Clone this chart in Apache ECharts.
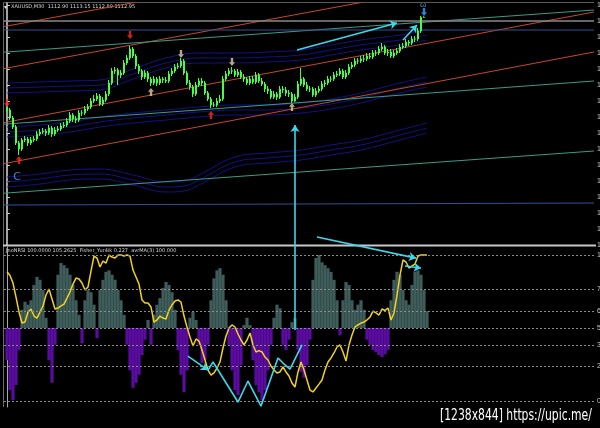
<!DOCTYPE html>
<html><head><meta charset="utf-8">
<script src="https://cdn.jsdelivr.net/npm/echarts@6.0.0/dist/echarts.min.js"></script>
<style>html,body{margin:0;padding:0;background:#000;overflow:hidden}#c{width:600px;height:428px}</style>
</head><body><div id="c"></div>
<script>
// ---------- price pane data (bar index = position) ----------
const closes = [
1089.75,1087.75,1085.5,1081.5,1080.0,1082.25,1082.5,1081.5,1082.25,1082.5,
1083.75,1084.25,1084.5,1084.0,1085.25,1083.75,1084.75,1085.0,1085.75,1086.0,
1087.0,1088.5,1087.5,1087.25,1089.0,1089.0,1090.0,1090.5,1092.0,1092.5,
1093.25,1091.25,1092.25,1093.75,1096.5,1099.5,1099.75,1098.5,1099.0,1101.5,
1102.75,1105.0,1103.25,1100.75,
1099.5,1098.0,1099.0,1097.5,1096.5,1097.5,1096.5,1097.5,1097.25,1097.0,
1098.75,1099.5,1100.5,1100.75,1102.0,1099.0,1096.5,1095.5,1093.75,1096.0,
1097.0,1096.5,1094.0,1092.5,1091.0,1091.0,1092.0,1092.5,1097.5,1098.75,
1099.5,1099.5,1098.5,1099.25,1098.0,1097.5,1096.5,1097.5,1096.75,1098.5,
1097.0,1096.25,1095.0,1094.5,1093.0,1093.75,1093.0,1095.0,1094.75,1094.0,
1093.75,1092.0,1093.0,1096.25,1097.5,1096.0,1095.0,1095.0,1093.5,1094.5,
1095.0,1096.25,1096.5,1097.5,1097.5,1098.5,1098.75,1099.5,1098.0,1099.0,
1100.5,1101.0,1102.0,1102.0,1102.5,1102.5,1103.25,1103.0,1104.0,1104.0,
1105.0,1105.5,1104.0,1104.25,1103.25,1104.0,1104.5,1105.5,1105.75,1106.75,
1106.5,1107.5,1107.5,1109.5,1112.9,1112.95];
const opens = [
1090.25,1089.75,1087.75,1085.5,1081.5,1080.0,1082.25,1082.5,1081.5,1082.25,
1082.5,1083.75,1084.25,1084.5,1084.0,1085.25,1083.75,1084.75,1085.0,1085.75,
1086.0,1087.0,1088.5,1087.5,1087.25,1089.0,1089.0,1090.0,1090.5,1092.0,
1092.5,1093.25,1091.25,1092.25,1093.75,1096.5,1099.5,1099.75,1098.5,1099.0,
1101.5,1102.75,1105.0,1103.25,
1100.75,1099.5,1098.0,1099.0,1097.5,1096.5,1097.5,1096.5,1097.5,1097.25,
1097.0,1098.75,1099.5,1100.5,1100.75,1102.0,1099.0,1096.5,1095.5,1093.75,
1096.0,1097.0,1096.5,1094.0,1092.5,1091.0,1091.0,1092.0,1092.5,1097.5,
1098.75,1099.5,1099.5,1098.5,1099.25,1098.0,1097.5,1096.5,1097.5,1096.75,
1098.5,1097.0,1096.25,1095.0,1094.5,1093.0,1093.75,1093.0,1095.0,1094.75,
1094.0,1093.75,1092.0,1093.0,1096.25,1097.5,1096.0,1095.0,1095.0,1093.5,
1094.5,1095.0,1096.25,1096.5,1097.5,1097.5,1098.5,1098.75,1099.5,1098.0,
1099.0,1100.5,1101.0,1102.0,1102.0,1102.5,1102.5,1103.25,1103.0,1104.0,
1104.0,1105.0,1105.5,1104.0,1104.25,1103.25,1104.0,1104.5,1105.5,1105.75,
1106.75,1106.5,1107.5,1107.5,1109.5,1112.9];
const highs = [
1090.75,1090.25,1088.25,1086.0,1082.0,1082.75,1083.25,1083.0,1083.0,1083.25,
1084.5,1085.0,1085.25,1085.0,1086.0,1085.75,1085.5,1085.75,1086.5,1086.75,
1087.75,1089.25,1089.0,1088.25,1089.75,1089.75,1090.75,1091.25,1092.75,1093.5,
1094.0,1093.75,1093.0,1094.5,1097.25,1100.25,1100.5,1100.25,1099.75,1102.25,
1103.5,1105.75,1105.5,1103.75,
1101.25,1100.0,1099.75,1099.5,1098.0,1098.25,1098.0,1098.25,1098.0,1098.0,
1099.5,1100.25,1101.25,1101.5,1102.75,1102.5,1099.5,1097.25,1096.0,1096.75,
1097.75,1097.75,1097.0,1094.5,1093.0,1091.75,1092.75,1093.5,1098.25,1099.5,
1100.25,1100.5,1100.0,1100.0,1099.75,1098.75,1098.0,1098.25,1098.25,1099.25,
1099.0,1097.75,1096.75,1095.75,1095.0,1094.5,1094.25,1095.75,1095.75,1095.5,
1094.75,1094.25,1093.75,1097.0,1100.25,1098.0,1096.75,1095.75,1095.5,1095.25,
1095.75,1097.0,1097.25,1098.25,1098.25,1099.25,1099.5,1100.25,1100.0,1099.75,
1101.25,1101.75,1102.75,1102.75,1103.25,1103.5,1104.0,1104.0,1104.75,1104.75,
1105.75,1106.5,1106.0,1105.0,1105.0,1104.75,1105.25,1106.25,1106.5,1107.5,
1107.25,1108.25,1108.25,1110.25,1113.25,1113.15];
const lows = [
1089.25,1087.25,1085.0,1081.0,1078.5,1079.5,1081.75,1080.75,1081.0,1081.75,
1082.0,1083.25,1083.75,1083.25,1083.5,1083.0,1083.25,1084.25,1084.5,1085.25,
1085.5,1086.5,1086.75,1086.5,1086.75,1088.25,1088.5,1089.5,1090.0,1091.5,
1092.0,1090.75,1090.75,1091.75,1093.25,1096.0,1098.75,1096.0,1097.75,1098.5,
1101.0,1102.25,1102.75,1100.0,
1098.75,1097.25,1097.5,1096.75,1095.75,1096.0,1095.75,1096.0,1096.5,1096.5,
1096.5,1098.25,1099.0,1100.0,1100.25,1098.5,1096.0,1094.75,1093.0,1093.25,
1095.5,1095.75,1093.5,1092.0,1090.25,1090.5,1090.5,1091.5,1092.0,1097.0,
1098.25,1098.75,1098.0,1098.0,1097.5,1096.75,1096.0,1096.0,1096.25,1096.25,
1096.5,1095.75,1094.25,1093.75,1092.5,1092.5,1092.25,1092.5,1094.0,1093.25,
1093.0,1091.5,1091.75,1092.5,1095.75,1095.5,1094.5,1094.25,1093.0,1093.0,
1094.0,1094.5,1095.5,1096.0,1096.75,1097.0,1098.0,1098.25,1097.5,1097.5,
1098.5,1100.0,1100.5,1101.25,1101.5,1101.75,1102.0,1102.5,1102.5,1103.25,
1103.5,1104.5,1103.5,1103.25,1102.75,1102.75,1103.5,1104.0,1105.0,1105.25,
1105.75,1106.0,1106.75,1107.0,1109.0,1112.89];

// moving-average envelopes: [bar index, price]
const envUpperA = [[0,1096.5],[11,1096.75],[21,1097.0],[31,1097.25],[42,1100.0],[53,1102.75],[64,1104.0],[76,1104.0],[87,1104.25],[98,1104.75],[108,1106.0],[118,1107.25],[131,1108.5],[140,1109.75]];
const envUpperB = [[0,1095.25],[11,1095.5],[21,1095.75],[31,1096.0],[42,1098.75],[53,1101.5],[64,1102.75],[76,1102.75],[87,1103.0],[98,1103.5],[108,1104.75],[118,1106.0],[131,1107.25],[140,1108.5]];
const envUpperC = [[0,1094.0],[11,1094.25],[21,1094.5],[31,1094.75],[42,1097.5],[53,1100.25],[64,1101.5],[76,1101.5],[87,1101.75],[98,1102.25],[108,1103.5],[118,1104.75],[131,1106.0],[140,1107.25]];
const envMidA = [[0,1085.5],[11,1086.0],[21,1086.75],[31,1088.0],[42,1089.0],[53,1089.75],[64,1090.5],[76,1091.0],[87,1091.0],[98,1091.5],[108,1092.5],[118,1094.0],[131,1096.5],[140,1098.0]];
const envMidB = [[0,1084.25],[11,1084.75],[21,1085.5],[31,1086.75],[42,1087.75],[53,1088.5],[64,1089.25],[76,1089.75],[87,1089.75],[98,1090.25],[108,1091.25],[118,1092.75],[131,1095.25],[140,1096.75]];
const envMidC = [[0,1083.0],[11,1083.5],[21,1084.25],[31,1085.5],[42,1086.5],[53,1087.25],[64,1088.0],[76,1088.5],[87,1088.5],[98,1089.0],[108,1090.0],[118,1091.5],[131,1094.0],[140,1095.5]];
const envLowA = [[0,1073.0],[11,1073.75],[21,1074.75],[31,1075.0],[42,1073.5],[53,1071.75],[59,1072.0],[64,1073.5],[76,1078.0],[87,1079.0],[98,1079.75],[108,1081.0],[118,1082.25],[131,1084.75],[140,1086.5]];
const envLowB = [[0,1071.75],[11,1072.5],[21,1073.5],[31,1073.75],[42,1072.25],[53,1070.5],[59,1070.75],[64,1072.25],[76,1076.75],[87,1077.75],[98,1078.5],[108,1079.75],[118,1081.0],[131,1083.5],[140,1085.25]];
const envLowC = [[0,1070.5],[11,1071.25],[21,1072.25],[31,1072.5],[42,1071.0],[53,1069.25],[59,1069.5],[64,1071.0],[76,1075.5],[87,1076.5],[98,1077.25],[108,1078.5],[118,1079.75],[131,1082.25],[140,1084.0]];

// straight chart objects: [[index, price],[index, price]]
const redLines = [[[-1,1110.6],[195.67,1137.9]],[[-1,1100.1],[195.67,1127.4]],[[-1,1086.6],[195.67,1114.25]],[[-1,1076.35],[195.67,1104.25]]];
const tealLines = [[[-1,1104.2],[195.67,1114.75]],[[-1,1086.2],[195.67,1097.0]],[[-1,1068.95],[195.67,1079.5]]];
const blueLines = [[[-1,1109.75],[195.67,1109.75]],[[-1,1066.0],[195.67,1066.5]]];
const bidLine = [[-1,1112.0],[195.67,1112.0]];

// fractal arrows
const redDown = [[0,1091.5],[41,1108.5]];
const redUp = [[4,1077.25],[68,1088.5]];
const beigeDown = [[58,1103.75],[75,1101.75]];
const beigeUp = [[48,1094.25],[95,1090.5]];
const blueDown = [[139,1114.25]];

// cyan hand-drawn arrows
const cyanTop = [[[96.67,1104.75],[130,1111.5]],[[132,1107.25],[136.67,1111.0]],[[96,1034.75],[96,1086.0]]];
const cyanBottom = [[[103.33,112.3],[136.33,97.9]],[[132.67,92.5],[138,91.1]],[[60.3,30.8],[67,21.2]]];
const cyanZigzag = [[67,21.2],[68.67,26.7],[77,-0.7],[80.33,13.7],[84.67,-3.5],[90.33,29.5],[92,26.0],[94.33,21.9],[98.33,38.4]];

// ---------- indicator pane ----------
const histValues = [-0.44,-0.85,
-0.99,-0.78,-0.30,0.25,0.36,0.32,0.38,0.59,0.70,0.66,0.52,0.14,-0.44,-0.75,-0.23,0.73,0.89,0.86,0.82,0.73,0.59,0.38,0.18,-0.21,0.38,0.52,0.49,0.32,-0.14,0.52,0.66,0.77,0.79,0.73,0.66,0.52,0.38,0.18,-0.23,-0.58,-0.82,
-0.75,
-0.64,-0.37,-0.16,0.11,-0.23,0.18,0.32,0.41,0.55,0.63,0.59,0.49,0.25,-0.30,-0.64,-0.88,-0.58,0.14,0.22,0.11,-0.23,-0.48,-0.44,-0.23,0.38,0.68,0.79,0.82,0.73,0.38,-0.23,-0.58,-0.85,-0.92,-0.51,0.04,0.14,0.04,-0.44,-0.78,
-0.88,
-0.99,-0.85,-0.58,-0.23,0.14,0.32,0.27,-0.23,-0.30,-0.16,0.08,0.14,-0.30,-0.60,-0.68,-0.51,-0.16,0.66,0.96,1.0,0.90,0.86,0.82,0.77,0.66,0.38,-0.10,0.38,0.63,0.59,0.38,0.25,0.32,0.38,0.25,-0.16,-0.23,-0.30,-0.33,-0.37,-0.40,
-0.36,
-0.30,0.38,0.66,0.77,0.73,0.52,0.38,0.32,0.59,0.77,0.79,0.73,0.52,0.23];
const rsiValues = [88.5,86.0,
80.8,71.2,61.0,53.4,54.1,61.0,63.0,58.2,56.8,61.0,65.1,72.6,76.7,69.9,63.0,63.7,65.1,66.4,70.5,74.7,80.1,84.2,83.6,80.8,76.0,78.1,89.0,99.3,97.9,91.8,95.9,94.5,100,98.6,97.9,100,100,99.3,100,99.3,89.7,
85.0,
80.1,69.2,67.1,67.1,64.4,54.1,55.5,58.2,56.8,56.2,62.3,65.8,68.5,69.2,67.8,58.2,50.7,43.8,37.7,42.5,41.1,34.9,28.1,21.2,17.8,19.2,22.6,26.7,36.3,44.5,50.0,52.1,50.7,45.9,41.8,38.4,41.8,46.6,38.4,33.6,
34.5,
33.6,30.1,28.1,24.0,21.2,19.2,19.9,23.3,19.9,17.1,12.3,9.6,19.9,26.7,21.2,14.4,7.5,6.2,8.9,11.6,14.4,21.2,26.7,29.5,32.9,37.0,38.4,33.6,27.4,38.4,45.2,50.7,52.1,53.4,54.1,55.5,57.5,61.6,60.3,58.9,63.0,
62.0,
63.7,55.5,60.3,72.6,86.3,96.6,95.2,91.1,92.5,93.8,99.3,100,100,100];
const levelValues = [100, 76.4, 61.8, 50, 38.2, 23.6, 0];
const levelLabels = ['100', '76.4', '61.8', '50', '38.2', '23.6', '0'];

const titleText = 'XAUUSD,M30  1112.90 1113.15 1112.89 1112.95';
const subTitleText = 'JnoNRSI 100.0000 105.2625  Fisher_Yur4ik 0.227  avrMA(3) 100.000';
const footerText = '[1238x844] https://upic.me/';

// ---------- build ----------
const chart = echarts.init(document.getElementById('c'), null, {renderer: 'canvas'});
const candleData = closes.map((c, i) => [i, opens[i], c, lows[i], highs[i]]);
const histData = histValues.map((v, i) => [i, v]);
const rsiData = rsiValues.map((v, i) => [i, v]);

const DOWN = 'path://M3,0 L7,0 L7,6 L10,6 L5,11 L0,6 L3,6 Z';
const UP = 'path://M5,0 L10,5 L7,5 L7,11 L3,11 L3,5 L0,5 Z';

const series = [];
function straight(pts, color, w) {
  series.push({type: 'line', xAxisIndex: 0, yAxisIndex: 0, data: pts, symbol: 'none', silent: true,
    lineStyle: {color: color, width: w || 1}, z: 1});
}
[envUpperA, envUpperB, envUpperC, envMidA, envMidB, envMidC, envLowA, envLowB, envLowC].forEach(e =>
  series.push({type: 'line', xAxisIndex: 0, yAxisIndex: 0, data: e, symbol: 'none', smooth: 0.4, silent: true,
    lineStyle: {color: '#12128a', width: 1}, z: 1}));
redLines.forEach(l => straight(l, '#c8462a', 1));
tealLines.forEach(l => straight(l, '#3a9c88', 1));
blueLines.forEach(l => straight(l, '#33509a', 1));
straight(bidLine, '#8a8a8a', 1.5);

series.push({type: 'candlestick', xAxisIndex: 0, yAxisIndex: 0, data: candleData,
  dimensions: ['idx', 'open', 'close', 'lowest', 'highest'], encode: {x: 0, y: [1, 2, 3, 4]},
  barWidth: 2, itemStyle: {color: '#18c018', color0: '#18c018', borderColor: '#44ff44', borderColor0: '#44ff44', borderWidth: 1}, z: 3});

function arrows(data, sym, color) {
  series.push({type: 'scatter', xAxisIndex: 0, yAxisIndex: 0, data: data, symbol: sym, symbolSize: [6, 8],
    itemStyle: {color: color}, silent: true, z: 4});
}
arrows(redDown, DOWN, '#ff2a1a');
arrows(redUp, UP, '#ff2a1a');
arrows(beigeDown, DOWN, '#e0cfa0');
arrows(beigeUp, UP, '#e0cfa0');
arrows(blueDown, DOWN, '#3aa0ff');

series.push({type: 'scatter', xAxisIndex: 0, yAxisIndex: 0, symbolSize: 0, silent: true, z: 5,
  data: [{value: [3.33, 1073.0], label: {show: true, formatter: 'C', color: '#58a8e8', fontSize: 11, fontFamily: 'DejaVu Sans'}},
         {value: [138.67, 1116.0], label: {show: true, formatter: 'ω', color: '#58b8e8', fontSize: 8}}]});

series.push({type: 'lines', coordinateSystem: 'cartesian2d', xAxisIndex: 0, yAxisIndex: 0, clip: false,
  data: cyanTop.map(c => ({coords: c})), symbol: ['none', 'arrow'], symbolSize: 7,
  lineStyle: {color: '#3ed6ea', width: 1.6, opacity: 1}, silent: true, z: 6});

// indicator pane
series.push({type: 'bar', xAxisIndex: 1, yAxisIndex: 2, data: histData, barWidth: 3.2, silent: true,
  itemStyle: {color: p => p.value[1] >= 0 ? '#3e5d5a' : '#5a0ca0'}, z: 1});
series.push({type: 'line', xAxisIndex: 1, yAxisIndex: 1, data: rsiData, symbol: 'none', silent: true,
  lineStyle: {color: '#f2d21c', width: 1.5}, z: 3,
  markLine: {silent: true, symbol: 'none', animation: false,
    lineStyle: {color: '#8a8a8a', type: [2, 2], width: 1},
    label: {position: 'end', color: '#c8c8c8', fontSize: 7, distance: 3},
    data: levelValues.map((v, k) => ({yAxis: v, label: {formatter: levelLabels[k]}}))}});
series.push({type: 'lines', coordinateSystem: 'cartesian2d', xAxisIndex: 1, yAxisIndex: 1, clip: false,
  data: cyanBottom.map(c => ({coords: c})), symbol: ['none', 'arrow'], symbolSize: 7,
  lineStyle: {color: '#3ed6ea', width: 1.6, opacity: 1}, silent: true, z: 6});
series.push({type: 'line', xAxisIndex: 1, yAxisIndex: 1, data: cyanZigzag, symbol: 'none', silent: true,
  lineStyle: {color: '#3ed6ea', width: 1.6}, z: 6});

const xCommon = {type: 'value', min: -1, max: 195.67, show: false};
chart.setOption({
  animation: false,
  backgroundColor: '#000000',
  grid: [{left: 4, right: 6, top: 3, height: 242, outerBoundsMode: 'none', containLabel: false},
         {left: 4, right: 6, top: 247, height: 160, outerBoundsMode: 'none', containLabel: false}],
  xAxis: [Object.assign({gridIndex: 0}, xCommon), Object.assign({gridIndex: 1}, xCommon)],
  yAxis: [
    {gridIndex: 0, type: 'value', position: 'right', min: 1056, max: 1116.5, interval: 4, scale: true,
      axisLine: {show: true, lineStyle: {color: '#d8d8d8', width: 1.5}},
      axisTick: {show: true, length: 3, lineStyle: {color: '#c8c8c8'}},
      axisLabel: {color: '#c8c8c8', fontSize: 7, margin: 3, formatter: v => v.toFixed(2)},
      splitLine: {show: false}},
    {gridIndex: 1, type: 'value', position: 'right', min: -4.1, max: 105.5,
      axisLine: {show: true, lineStyle: {color: '#a8a8a8', width: 1}},
      axisTick: {show: false}, axisLabel: {show: false}, splitLine: {show: false}},
    {gridIndex: 1, type: 'value', min: -1.082, max: 1.1096, show: false, splitLine: {show: false}}
  ],
  graphic: [
    {type: 'line', shape: {x1: 3.5, y1: 2, x2: 3.5, y2: 407}, style: {stroke: '#6a6a6a', lineWidth: 1}, silent: true},
    {type: 'line', shape: {x1: 3, y1: 2.5, x2: 594, y2: 2.5}, style: {stroke: '#5a5a5a', lineWidth: 1}, silent: true},
    {type: 'line', shape: {x1: 3, y1: 245.5, x2: 596, y2: 245.5}, style: {stroke: '#c8c8c8', lineWidth: 2}, silent: true},
    {type: 'text', left: 4, top: 4, style: {text: '▾', fill: '#e0e0e0', font: '6px "DejaVu Sans"'}, silent: true},
    {type: 'text', left: 11, top: 4, style: {text: titleText, fill: '#d8d8d8', font: '5px "DejaVu Sans"'}, silent: true},
    {type: 'text', left: 6, top: 248, style: {text: subTitleText, fill: '#d8d8d8', font: '5px "DejaVu Sans"'}, silent: true},
    {type: 'text', x: 440, y: 409, scaleX: 0.8, style: {text: footerText, fill: '#ffffff', font: '15px "DejaVu Sans Condensed", "DejaVu Sans"'}, silent: true}
  ],
  series: series
});
</script>
</body></html>
